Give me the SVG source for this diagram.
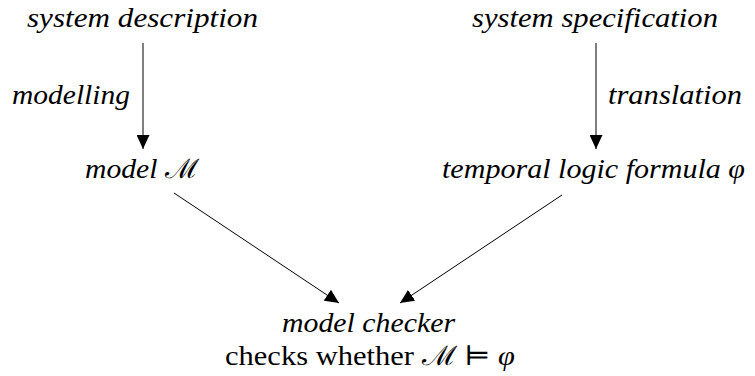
<svg xmlns="http://www.w3.org/2000/svg" width="755" height="376" viewBox="0 0 755 376">
<style>
text{font-family:"Liberation Serif","DejaVu Serif",serif;font-size:27px;fill:#000}
.it{font-style:italic}
.c{stroke:#000;stroke-width:1;fill:none}
</style>
<defs>
<marker id="ah" markerWidth="14" markerHeight="13" refX="14" refY="6.5" orient="auto" markerUnits="userSpaceOnUse" viewBox="0 0 14 13">
<path d="M0,0 L14,6.5 L0,13 Z" fill="#000"/>
</marker>
</defs>
<rect width="755" height="376" fill="#fff"/>
<g id="n1"><text class="it" x="27" y="27" textLength="231" lengthAdjust="spacingAndGlyphs">system description</text></g>
<g id="n2"><text class="it" x="472" y="27" textLength="246" lengthAdjust="spacingAndGlyphs">system specification</text></g>
<g id="n3"><text class="it" x="85" y="178" textLength="114" lengthAdjust="spacingAndGlyphs">model <tspan font-family="DejaVu Serif" font-style="normal">ℳ</tspan></text></g>
<g id="n4"><text class="it" x="442" y="178" textLength="303" lengthAdjust="spacingAndGlyphs">temporal logic formula φ</text></g>
<g id="n5"><text class="it" x="282" y="332" textLength="173" lengthAdjust="spacingAndGlyphs">model checker</text>
<text x="225" y="365" textLength="290" lengthAdjust="spacingAndGlyphs">checks whether <tspan font-family="DejaVu Serif">ℳ</tspan> ⊨ <tspan font-style="italic">φ</tspan></text></g>
<g id="connectors">
<line class="c" x1="143" y1="43" x2="143" y2="149" marker-end="url(#ah)"/>
<line class="c" x1="596" y1="43" x2="596" y2="149" marker-end="url(#ah)"/>
<line class="c" x1="174" y1="193" x2="339" y2="303" marker-end="url(#ah)"/>
<line class="c" x1="562" y1="195" x2="400" y2="303" marker-end="url(#ah)"/>
<text class="it" x="12" y="104" textLength="118" lengthAdjust="spacingAndGlyphs">modelling</text>
<text class="it" x="608" y="104" textLength="134" lengthAdjust="spacingAndGlyphs">translation</text>
</g>
</svg>
